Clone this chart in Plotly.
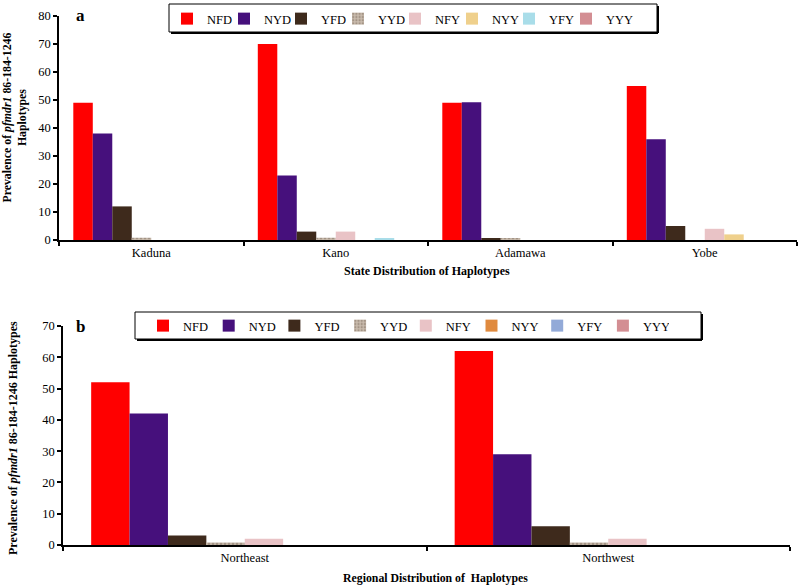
import plotly.graph_objects as go

series = ["NFD", "NYD", "YFD", "YYD", "NFY", "NYY", "YFY", "YYY"]

states = ["Kaduna", "Kano", "Adamawa", "Yobe"]
state_vals = {
    "NFD": [49, 70, 49, 55],
    "NYD": [38, 23, 49.2, 36],
    "YFD": [12, 3, 0.7, 5],
    "YYD": [0.8, 0.8, 0.5, 0],
    "NFY": [0, 3, 0, 4],
    "NYY": [0, 0, 0, 2],
    "YFY": [0, 0.5, 0, 0],
    "YYY": [0, 0, 0, 0],
}

regions = ["Northeast", "Northwest"]
region_vals = {
    "NFD": [52, 62],
    "NYD": [42, 29],
    "YFD": [3, 6],
    "YYD": [0.8, 0.8],
    "NFY": [2, 2],
    "NYY": [0, 0],
    "YFY": [0, 0],
    "YYY": [0, 0],
}

colors_a = ["#FF0000", "#46107C", "#3E2A1C", "#B5A595", "#E9C3C6", "#EFD08C", "#A9DDE9", "#D38E93"]
colors_b = ["#FF0000", "#46107C", "#3E2A1C", "#B5A595", "#E9C3C6", "#E08A3E", "#93AAD8", "#D38E93"]

FONT = "Liberation Serif"
W, H = 799, 585


def px(x):
    return x / W


def py(y):
    return 1 - y / H


fig = go.Figure()

for i, s in enumerate(series):
    pat = dict(shape=".", fgcolor="#7d6e60", bgcolor="#C9BBAD", size=4, solidity=0.4) if s == "YYD" else None
    fig.add_trace(go.Bar(
        x=states, y=state_vals[s], name=s, marker_color=colors_a[i],
        marker_line_width=0, marker_pattern=pat,
        xaxis="x", yaxis="y", legend="legend", showlegend=True,
    ))
for i, s in enumerate(series):
    pat = dict(shape=".", fgcolor="#7d6e60", bgcolor="#C9BBAD", size=4, solidity=0.4) if s == "YYD" else None
    fig.add_trace(go.Bar(
        x=regions, y=region_vals[s], name=s, marker_color=colors_b[i],
        marker_line_width=0, marker_pattern=pat,
        xaxis="x2", yaxis="y2", legend="legend2", showlegend=True,
    ))

axis_common = dict(
    showline=True, linecolor="black", linewidth=1.5, ticks="outside",
    ticklen=4, tickcolor="black", tickwidth=1.5, showgrid=False, zeroline=False,
    tickfont=dict(family=FONT, size=12.5, color="black"), automargin=False,
)


def legend_box(x0, y0, x1, y1):
    return [
        dict(type="rect", xref="paper", yref="paper", x0=px(x0), x1=px(x1), y0=py(y0), y1=py(y1),
             line=dict(color="black", width=1), fillcolor="rgba(0,0,0,0)", layer="above"),
        dict(type="line", xref="paper", yref="paper", x0=px(x0 + 2), x1=px(x1 + 1), y0=py(y1 + 1), y1=py(y1 + 1),
             line=dict(color="black", width=2), layer="above"),
        dict(type="line", xref="paper", yref="paper", x0=px(x1 + 1), x1=px(x1 + 1), y0=py(y0 + 2), y1=py(y1 + 1),
             line=dict(color="black", width=2), layer="above"),
    ]


shapes = legend_box(169, 4, 657, 32) + legend_box(135, 312, 701, 339)


def note(text, x, y, size, angle=0):
    return dict(text=text, x=px(x), y=py(y), xref="paper", yref="paper", showarrow=False,
                xanchor="center", yanchor="middle", textangle=angle,
                font=dict(family=FONT, size=size, color="black"))


fig.update_layout(
    width=W, height=H,
    margin=dict(l=0, r=0, t=0, b=0, autoexpand=False),
    paper_bgcolor="white", plot_bgcolor="white",
    barmode="group", bargap=0.155, bargroupgap=0,
    font=dict(family=FONT, size=12, color="black"),
    xaxis=dict(domain=[px(59), px(797)], anchor="y", tickson="boundaries", **axis_common),
    yaxis=dict(domain=[py(240), py(16)], anchor="x", range=[0, 80], dtick=10, **axis_common),
    xaxis2=dict(domain=[px(63), px(790)], anchor="y2", tickson="boundaries", **axis_common),
    yaxis2=dict(domain=[py(545), py(326)], anchor="x2", range=[0, 70], dtick=10, **axis_common),
    legend=dict(orientation="h", x=px(167), y=py(4), xanchor="left", yanchor="top",
                borderwidth=0, bgcolor="rgba(0,0,0,0)",
                entrywidth=12, entrywidthmode="pixels", itemwidth=30,
                font=dict(family=FONT, size=12.5), traceorder="normal"),
    legend2=dict(orientation="h", x=px(143), y=py(311), xanchor="left", yanchor="top",
                 borderwidth=0, bgcolor="rgba(0,0,0,0)",
                 entrywidth=20.7, entrywidthmode="pixels", itemwidth=30,
                 font=dict(family=FONT, size=12.5), traceorder="normal"),
    shapes=shapes,
    annotations=[
        note("<b>a</b>", 80, 15, 17),
        note("<b>b</b>", 80, 326, 17),
        note("<b>State Distribution of Haplotypes</b>", 427, 271, 12),
        note("<b>Regional Distribution of  Haplotypes</b>", 435, 578, 11.8),
        note("<b>Prevalence of <i>pfmdr1</i> 86-184-1246<br>Haplotypes</b>", 14.5, 118, 11.8, -90),
        note("<b>Prevalence of <i>pfmdr1</i> 86-184-1246 Haplotypes</b>", 13, 438, 12, -90),
    ],
)

post = ("var st=document.createElement('style');"
        "st.innerHTML='html,body{margin:0;padding:0;overflow:hidden}.legend .scrollbox{clip-path:none !important}';"
        "document.head.appendChild(st);")

fig.write_html("out.html", post_script=post, config={"displayModeBar": False})
